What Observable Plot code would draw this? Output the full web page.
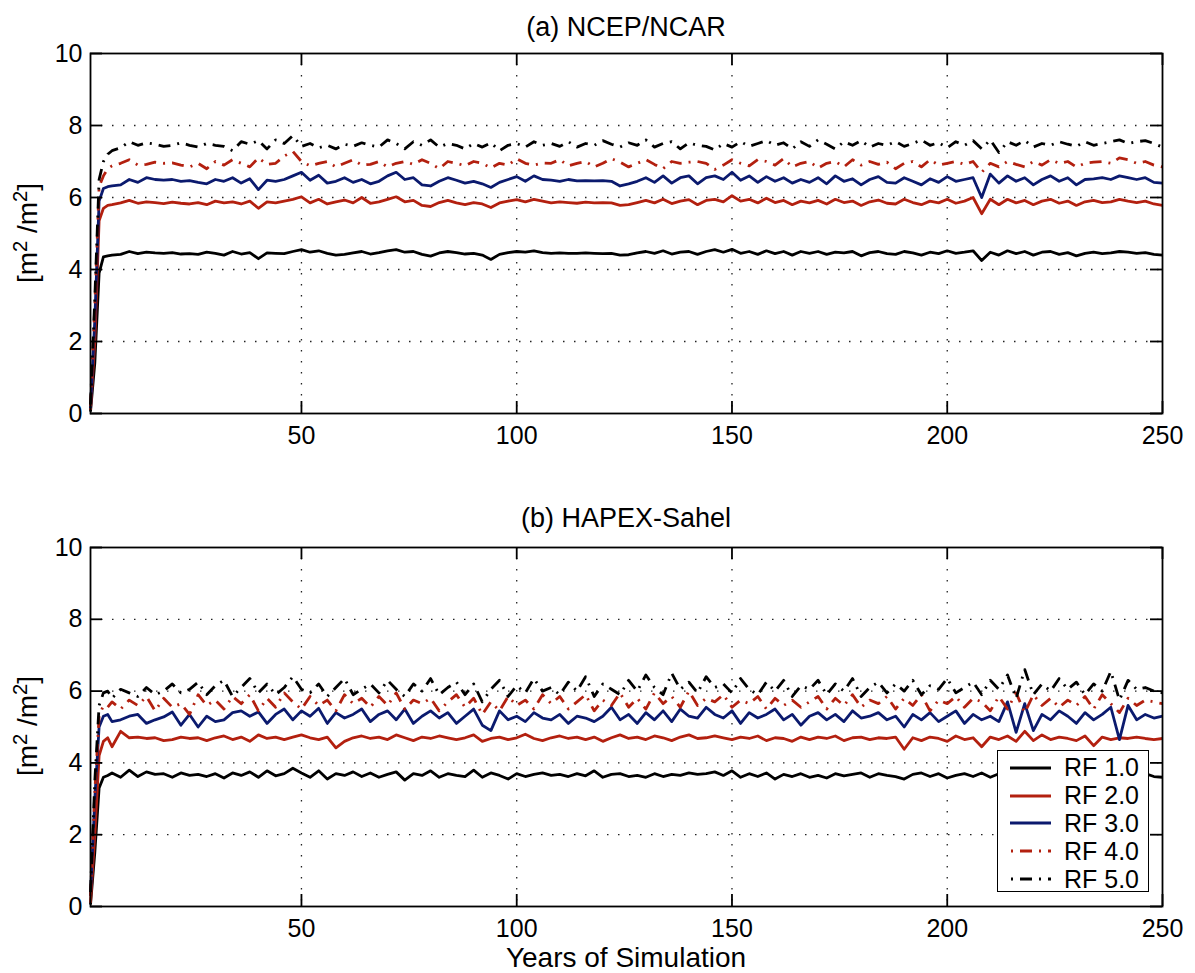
<!DOCTYPE html>
<html><head><meta charset="utf-8">
<script src="https://cdn.jsdelivr.net/npm/d3@7"></script>
<script src="https://cdn.jsdelivr.net/npm/@observablehq/plot@0.6"></script>
<style>
body{margin:0;background:#fff;font-family:"Liberation Sans",Arial,Helvetica,sans-serif;color:#000;}
#wrap{position:relative;width:1195px;height:973px;overflow:hidden;}
.abs{position:absolute;}
.title{left:0;width:1252px;text-align:center;font-size:27px;line-height:30px;}
.ylab{width:300px;text-align:center;font-size:28px;line-height:32px;transform:rotate(-90deg);white-space:nowrap;}
.ylab sup{font-size:0.72em;line-height:0;}
.xlab{left:0;width:1252px;text-align:center;font-size:28px;line-height:28px;height:28px;}
#legend{left:997px;top:750px;width:152px;height:142px;border:1.6px solid #000;background:#fff;box-sizing:border-box;padding-top:3px;}
.lrow{display:flex;align-items:center;height:27.8px;font-size:25px;}
.lrow svg{margin-left:12px;margin-right:13px;}
</style></head><body><div id="wrap"></div>
<script>
// x positions (years of simulation); every year at the start, then every second year
const years = [1,2,3,4,5,6, ...d3.range(8, 251, 2)];
const seriesNames = ["RF 1.0","RF 2.0","RF 3.0","RF 4.0","RF 5.0"];
const xTicks = [50,100,150,200,250];
const yTicks = [0,2,4,6,8,10];
const xGrid = [50,100,150,200];
const yGrid = [2,4,6,8];

// (a) NCEP/NCAR
const ncepRF1 = [0.05,1.4,3.9,4.35,4.38,4.4,
4.42,4.5,4.44,4.48,4.46,4.45,4.47,4.43,4.44,4.42,
4.48,4.45,4.4,4.5,4.43,4.47,4.3,4.46,4.45,4.44,
4.5,4.55,4.48,4.52,4.45,4.4,4.42,4.46,4.5,4.43,
4.47,4.52,4.55,4.48,4.5,4.42,4.37,4.46,4.5,4.47,
4.43,4.45,4.4,4.28,4.42,4.47,4.5,4.48,4.52,4.47,
4.45,4.46,4.45,4.45,4.46,4.45,4.44,4.45,4.4,4.41,
4.46,4.5,4.45,4.52,4.43,4.48,4.5,4.42,4.5,4.55,
4.48,4.56,4.45,4.5,4.42,4.52,4.44,4.5,4.4,4.5,
4.45,4.5,4.42,4.48,4.46,4.5,4.38,4.47,4.5,4.44,
4.42,4.5,4.46,4.4,4.48,4.44,4.52,4.45,4.48,4.52,
4.25,4.48,4.4,4.52,4.44,4.5,4.4,4.48,4.5,4.42,
4.47,4.38,4.45,4.48,4.44,4.46,4.5,4.48,4.45,4.47,
4.42,4.4];
const ncepRF2 = [0.1,2.0,5.35,5.7,5.78,5.8,
5.85,5.92,5.84,5.88,5.86,5.83,5.87,5.84,5.82,5.86,
5.8,5.9,5.85,5.88,5.82,5.9,5.7,5.88,5.85,5.9,
5.95,6.02,5.85,5.95,5.82,5.88,5.93,5.85,6.0,5.84,
5.88,5.95,6.02,5.88,5.92,5.78,5.75,5.86,5.92,5.85,
5.8,5.86,5.82,5.72,5.85,5.9,5.94,5.88,5.95,5.9,
5.85,5.88,5.86,5.84,5.87,5.85,5.86,5.85,5.78,5.8,
5.86,5.92,5.85,5.95,5.83,5.9,5.94,5.8,5.92,5.95,
5.88,6.05,5.9,5.95,5.85,5.98,5.86,5.92,5.8,5.9,
5.85,5.92,5.82,5.95,5.86,5.9,5.78,5.88,5.93,5.84,
5.82,5.95,5.86,5.8,5.9,5.85,5.95,5.84,5.9,6.0,
5.55,5.95,5.8,5.95,5.85,5.92,5.8,5.9,5.95,5.84,
5.9,5.78,5.88,5.92,5.86,5.88,5.95,5.9,5.86,5.9,
5.82,5.78];
const ncepRF3 = [0.15,2.6,5.9,6.25,6.3,6.32,
6.35,6.5,6.42,6.55,6.5,6.48,6.5,6.45,6.47,6.42,
6.38,6.5,6.45,6.55,6.4,6.52,6.22,6.48,6.45,6.5,
6.6,6.7,6.48,6.62,6.4,6.45,6.55,6.42,6.5,6.38,
6.45,6.6,6.7,6.5,6.55,6.35,6.32,6.45,6.55,6.48,
6.4,6.45,6.38,6.28,6.42,6.5,6.58,6.45,6.6,6.5,
6.48,6.45,6.5,6.46,6.47,6.46,6.47,6.45,6.32,6.38,
6.45,6.55,6.42,6.6,6.4,6.55,6.6,6.38,6.55,6.6,
6.5,6.7,6.48,6.6,6.42,6.58,6.45,6.55,6.4,6.5,
6.42,6.55,6.38,6.6,6.45,6.52,6.35,6.5,6.58,6.42,
6.4,6.55,6.45,6.35,6.52,6.42,6.58,6.45,6.5,6.55,
6.0,6.65,6.4,6.6,6.45,6.55,6.35,6.5,6.6,6.45,
6.55,6.35,6.5,6.52,6.55,6.5,6.6,6.55,6.5,6.55,
6.42,6.4];
const ncepRF4 = [0.2,3.0,6.3,6.6,6.8,6.88,
6.95,7.05,6.9,6.92,6.98,6.95,6.96,6.9,6.85,6.95,
6.8,7.0,6.9,7.05,6.95,6.85,7.1,6.92,6.95,7.15,
7.28,7.0,6.88,6.95,7.0,6.85,6.95,7.05,6.9,6.92,
7.0,6.85,6.95,7.0,6.92,7.05,6.95,6.8,7.0,6.95,
6.88,7.0,6.95,6.82,6.95,6.9,7.08,6.95,6.9,6.96,
6.95,7.05,6.88,6.95,7.0,6.85,6.95,7.08,6.98,6.85,
6.95,7.05,6.92,6.8,7.0,6.95,6.98,7.0,6.95,6.78,
6.9,7.05,6.95,6.88,7.05,7.0,6.9,7.08,6.85,6.95,
7.0,6.82,6.95,7.0,6.85,7.05,6.9,7.0,6.92,6.98,
6.8,6.95,7.0,6.85,7.05,6.9,6.95,7.0,6.92,7.0,
6.7,6.95,6.85,7.0,6.92,6.85,7.0,6.9,7.05,6.95,
7.0,6.85,6.95,6.98,7.0,6.95,7.1,7.05,6.95,7.0,
6.9,6.85];
const ncepRF5 = [0.25,3.2,6.5,7.0,7.2,7.3,
7.38,7.55,7.45,7.52,7.48,7.42,7.45,7.52,7.45,7.4,
7.5,7.45,7.42,7.3,7.55,7.48,7.58,7.35,7.6,7.5,
7.72,7.42,7.5,7.38,7.45,7.35,7.48,7.42,7.52,7.45,
7.4,7.6,7.5,7.35,7.55,7.45,7.6,7.4,7.5,7.45,
7.35,7.5,7.4,7.52,7.3,7.45,7.5,7.4,7.55,7.45,
7.5,7.42,7.55,7.4,7.5,7.45,7.58,7.48,7.4,7.52,
7.45,7.6,7.4,7.5,7.55,7.35,7.52,7.45,7.42,7.32,
7.5,7.4,7.55,7.42,7.5,7.58,7.45,7.52,7.35,7.55,
7.42,7.6,7.48,7.35,7.55,7.45,7.58,7.4,7.5,7.45,
7.55,7.42,7.5,7.6,7.45,7.52,7.38,7.55,7.45,7.58,
7.35,7.6,7.25,7.55,7.45,7.58,7.4,7.5,7.45,7.55,
7.48,7.42,7.55,7.45,7.5,7.55,7.6,7.5,7.55,7.58,
7.5,7.4];

// (b) HAPEX-Sahel
const hapexRF1 = [0.05,1.5,3.3,3.6,3.65,3.72,
3.6,3.8,3.62,3.75,3.68,3.7,3.6,3.72,3.65,3.68,
3.62,3.7,3.58,3.72,3.65,3.75,3.6,3.78,3.64,3.7,
3.85,3.72,3.6,3.78,3.55,3.7,3.65,3.75,3.62,3.72,
3.6,3.68,3.75,3.52,3.7,3.65,3.78,3.6,3.7,3.65,
3.62,3.8,3.6,3.72,3.65,3.55,3.7,3.62,3.68,3.72,
3.65,3.68,3.62,3.7,3.64,3.78,3.6,3.68,3.7,3.62,
3.65,3.6,3.7,3.62,3.68,3.65,3.72,3.68,3.7,3.75,
3.65,3.78,3.6,3.7,3.62,3.72,3.55,3.68,3.62,3.7,
3.6,3.65,3.58,3.7,3.64,3.68,3.72,3.6,3.7,3.65,
3.62,3.55,3.68,3.72,3.62,3.7,3.58,3.65,3.7,3.62,
3.72,3.6,3.7,3.65,3.75,3.68,3.8,3.6,3.7,3.65,
3.72,3.62,3.7,3.65,3.68,3.62,3.7,3.72,3.65,3.7,
3.62,3.6];
const hapexRF2 = [0.1,2.0,4.2,4.6,4.7,4.45,
4.88,4.7,4.72,4.68,4.7,4.62,4.65,4.72,4.68,4.7,
4.62,4.7,4.75,4.65,4.72,4.6,4.78,4.68,4.72,4.65,
4.72,4.78,4.7,4.65,4.72,4.42,4.6,4.7,4.75,4.68,
4.72,4.65,4.78,4.7,4.62,4.72,4.68,4.75,4.7,4.65,
4.7,4.78,4.6,4.68,4.72,4.65,4.7,4.8,4.68,4.62,
4.7,4.75,4.68,4.72,4.65,4.72,4.6,4.7,4.78,4.68,
4.72,4.65,4.75,4.7,4.62,4.72,4.78,4.68,4.7,4.75,
4.7,4.65,4.72,4.68,4.75,4.62,4.7,4.68,4.6,4.72,
4.65,4.72,4.68,4.75,4.62,4.7,4.72,4.65,4.7,4.68,
4.72,4.38,4.7,4.62,4.72,4.68,4.6,4.75,4.65,4.7,
4.45,4.72,4.65,4.75,4.6,4.88,4.62,4.78,4.65,4.72,
4.68,4.62,4.75,4.48,4.72,4.65,4.7,4.68,4.72,4.68,
4.65,4.68];
const hapexRF3 = [0.3,3.0,5.0,5.3,5.35,5.15,
5.2,5.3,5.35,5.1,5.2,5.28,5.42,5.05,5.35,5.0,
5.3,5.15,5.2,5.4,5.45,5.3,5.42,5.1,5.35,5.5,
5.2,5.45,5.3,5.52,5.1,5.4,5.25,5.35,5.5,5.15,
5.35,5.45,5.2,5.5,5.1,5.3,5.45,5.25,5.4,5.1,
5.3,5.5,5.05,4.9,5.45,5.2,5.3,5.15,5.4,5.25,
5.2,5.35,5.1,5.3,5.25,5.15,5.3,5.55,5.2,5.35,
5.1,5.4,5.2,5.45,5.15,5.5,5.3,5.25,5.55,5.35,
5.25,5.45,5.1,5.4,5.25,5.35,5.5,5.2,5.35,5.05,
5.3,5.4,5.2,5.35,5.15,5.45,5.25,5.3,5.4,5.2,
5.3,5.0,5.35,5.2,5.4,5.15,5.3,5.45,5.1,5.35,
5.2,5.3,5.15,5.7,4.85,5.65,4.9,5.35,5.2,5.45,
5.3,5.1,5.4,5.2,5.35,5.55,4.65,5.6,5.2,5.35,
5.25,5.3];
const hapexRF4 = [0.3,3.2,5.3,5.6,5.55,5.7,
5.5,5.75,5.6,5.85,5.45,5.8,5.55,5.65,5.35,5.9,
5.6,5.75,5.5,5.85,5.65,5.9,5.45,5.8,5.55,5.95,
5.7,5.5,5.85,5.6,5.75,5.45,5.9,5.65,5.8,5.55,
5.85,5.6,5.95,5.5,5.75,5.65,5.8,5.45,5.7,5.9,
5.55,5.8,5.35,5.7,5.45,5.85,5.6,5.75,5.5,5.9,
5.65,5.85,5.5,5.7,5.9,5.45,5.75,5.6,5.95,5.55,
5.8,5.5,5.95,5.65,5.85,5.55,6.0,5.6,5.8,5.7,
5.9,5.55,5.75,5.65,5.85,5.5,5.8,5.6,5.75,5.55,
5.7,5.85,5.5,5.8,5.6,5.9,5.55,5.75,5.65,5.85,
5.5,5.8,5.6,5.9,5.45,5.75,5.65,5.85,5.55,5.8,
5.7,5.45,5.85,5.5,5.95,5.4,5.9,5.6,5.8,5.55,
5.75,5.6,5.85,5.5,5.9,5.65,5.4,5.8,5.6,5.75,
5.7,5.65];
const hapexRF5 = [0.4,3.5,5.6,5.95,6.0,5.8,
6.05,5.95,5.85,6.1,5.9,6.0,6.2,5.95,6.05,6.25,
5.9,6.15,6.3,5.85,6.1,6.35,5.95,6.2,5.9,6.1,
6.4,6.05,5.95,6.2,5.85,6.1,6.35,5.9,6.05,6.2,
5.95,6.3,6.05,5.85,6.2,6.0,6.35,5.9,6.1,6.25,
5.9,6.2,5.7,6.05,6.3,5.85,6.15,5.95,6.35,6.0,
6.1,5.9,6.25,6.0,6.4,5.85,6.2,6.05,5.9,6.3,
6.0,6.45,6.1,5.9,6.5,6.05,6.25,5.95,6.4,6.1,
6.2,5.95,6.35,6.05,5.9,6.25,6.0,6.3,5.85,6.15,
6.05,6.3,5.9,6.2,6.0,6.35,5.85,6.1,6.25,5.95,
6.2,6.0,6.3,5.9,6.15,6.05,6.35,5.95,6.1,6.25,
5.9,6.3,6.05,6.45,5.8,6.6,5.9,6.2,6.0,6.35,
6.05,6.25,5.9,6.2,6.0,6.55,5.75,6.3,6.05,6.1,
6.0,5.95];

const colors = ["#000000", "#b3200f", "#0b1a6e", "#b3200f", "#000000"];
const dashes = [null, null, null, "12,7,2,7", "12,7,2,7"];

const W = 1195, ML = 90, MR = 33;

function panel(seriesArrays, height, mTop, mBottom) {
  const innerW = W - ML - MR, innerH = height - mTop - mBottom, tk = 12;
  const lines = seriesArrays.map((arr, k) => Plot.line(arr, {
    x: (d, i) => years[i], y: d => d,
    stroke: colors[k], strokeWidth: 2.8,
    strokeDasharray: dashes[k] ?? undefined,
    strokeLinejoin: "round", strokeLinecap: "butt"
  }));
  return Plot.plot({
    width: W, height, marginLeft: ML, marginRight: MR, marginTop: mTop, marginBottom: mBottom,
    x: {domain: [1, 250]}, y: {domain: [0, 10]},
    style: "font-family:'Liberation Sans',Arial,sans-serif;font-size:25px;color:#000;background:transparent;overflow:visible;",
    marks: [
      Plot.ruleY(yGrid, {y: d => d, stroke: "#222", strokeWidth: 1.3, strokeDasharray: "1.5,9.5"}),
      Plot.ruleX(xGrid, {x: d => d, stroke: "#222", strokeWidth: 1.3, strokeDasharray: "1.5,9.5"}),
      ...lines,
      Plot.tickY(yTicks, {y: d => d, insetRight: innerW - tk, stroke: "#000", strokeWidth: 1.8}),
      Plot.tickY(yTicks, {y: d => d, insetLeft: innerW - tk, stroke: "#000", strokeWidth: 1.8}),
      Plot.tickX(xTicks, {x: d => d, insetTop: innerH - tk, stroke: "#000", strokeWidth: 1.8}),
      Plot.tickX(xTicks, {x: d => d, insetBottom: innerH - tk, stroke: "#000", strokeWidth: 1.8}),
      Plot.frame({stroke: "#000", strokeWidth: 1.8}),
      Plot.axisX({ticks: xTicks, tickSize: 0, tickPadding: 13, label: null, tickFormat: d => String(d)}),
      Plot.axisY({ticks: yTicks, tickSize: 0, tickPadding: 8, label: null, tickFormat: d => String(d)})
    ]
  });
}

const wrap = document.getElementById("wrap");
function place(el, top) { el.style.position = "absolute"; el.style.left = "0px"; el.style.top = top + "px"; wrap.appendChild(el); }

place(panel([ncepRF1, ncepRF2, ncepRF3, ncepRF4, ncepRF5], 480, 53, 67), 0);
place(panel([hapexRF1, hapexRF2, hapexRF3, hapexRF4, hapexRF5], 483, 57, 67), 490);

function addDiv(cls, html, css) {
  const d = document.createElement("div");
  d.className = "abs " + cls; d.innerHTML = html;
  Object.assign(d.style, css); wrap.appendChild(d); return d;
}
addDiv("title", "(a) NCEP/NCAR", {top: "12px"});
addDiv("title", "(b) HAPEX-Sahel", {top: "503px"});
addDiv("ylab", "[m<sup>2</sup> /m<sup>2</sup>]", {left: (28 - 150) + "px", top: (233 - 16) + "px"});
addDiv("ylab", "[m<sup>2</sup> /m<sup>2</sup>]", {left: (28 - 150) + "px", top: (726 - 16) + "px"});
addDiv("xlab", "Years of Simulation", {top: "944px"});

// legend
const leg = addDiv("", "", {});
leg.id = "legend";
seriesNames.forEach((name, k) => {
  const row = document.createElement("div");
  row.className = "lrow";
  row.innerHTML = `<svg width="41" height="10"><line x1="0" y1="5" x2="41" y2="5" stroke="${colors[k]}" stroke-width="2.8" ${dashes[k] ? `stroke-dasharray="2,7,12,7" stroke-dashoffset="-1"` : ""}/></svg><span>${name}</span>`;
  leg.appendChild(row);
});
</script>
</body></html>
